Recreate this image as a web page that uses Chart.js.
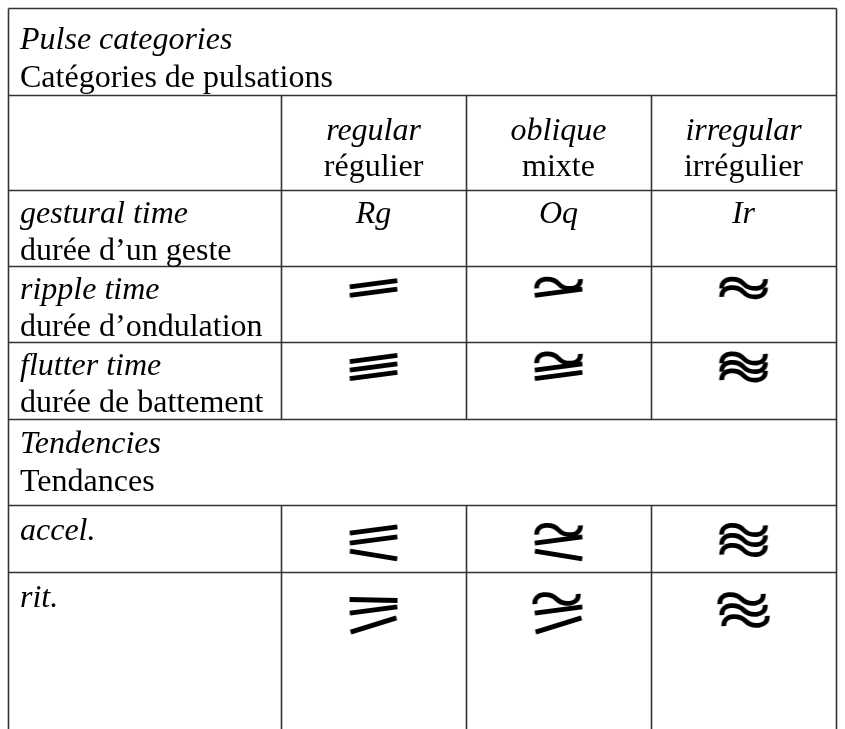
<!DOCTYPE html>
<html>
<head>
<meta charset="utf-8">
<script src="https://cdn.jsdelivr.net/npm/chart.js@4.4.1/dist/chart.umd.min.js"></script>
<style>
  html, body { margin: 0; padding: 0; background: #fff; }
  #wrap { width: 845px; height: 729px; position: relative; }
</style>
</head>
<body>
<div id="wrap"><canvas id="pulseChart"></canvas></div>
<script>
// table content
const titleEn = "Pulse categories";
const titleFr = "Catégories de pulsations";
const columnsEn = ["regular", "oblique", "irregular"];
const columnsFr = ["régulier", "mixte", "irrégulier"];
const durationsEn = ["gestural time", "ripple time", "flutter time"];
const durationsFr = ["durée d’un geste", "durée d’ondulation", "durée de battement"];
const gestureCodes = ["Rg", "Oq", "Ir"];
const tendencyEn = "Tendencies";
const tendencyFr = "Tendances";
const tendencyRows = ["accel.", "rit."];

// glyph strokes per cell: B = bar, T = tilde
const rippleGlyphs = ["BB", "TB", "TT"];
const flutterGlyphs = ["BBB", "TBB", "TTT"];
const accelGlyphs = ["BBB", "TBB", "TTT"];
const ritGlyphs = ["BBB", "TBB", "TTT"];

// layout of the grid (y measured down from the top border)
const rowEdges = [0, 87, 182, 258, 334, 411, 497, 564, 800];
const labelColWidth = 1.476; // in column units
const FONT = '"Liberation Serif", "DejaVu Serif", serif';
const FS = 32;

function drawTilde(g, w, a) {
  g.beginPath();
  g.moveTo(-w / 2, a * 0.7);
  g.bezierCurveTo(-w / 2, -a * 1.4, -w / 8, -a * 1.1, 0, 0);
  g.bezierCurveTo(w / 8, a * 1.1, w / 2, a * 1.4, w / 2, -a * 0.7);
  g.stroke();
}

function drawBar(g, w) {
  g.beginPath();
  g.moveTo(-w / 2, 0);
  g.lineTo(w / 2, 0);
  g.stroke();
}

function makeGlyph(strokes, mode) {
  const c = document.createElement("canvas");
  c.width = 70;
  c.height = 64;
  const g = c.getContext("2d");
  g.strokeStyle = "#000";
  g.lineWidth = 4.8;
  g.lineCap = "butt";
  const n = strokes.length;
  const gap = mode === "steady" ? 8.5 : 10;
  for (let i = 0; i < n; i++) {
    let dy = (i - (n - 1) / 2) * gap;
    let ang = -0.13;
    if (mode === "accel" && i === n - 1 && strokes[i] === "B") { ang = 0.16; dy += 5; }
    if (mode === "rit" && i === n - 1 && strokes[i] === "B") { ang = -0.3; dy += 5; }
    if (mode === "rit" && i === 0 && strokes[i] === "B") { ang = 0.02; }
    if (mode === "rit" && strokes[i] === "T") { ang = -0.25; dy *= 1.1; }
    g.save();
    g.translate(35 + (mode === "rit" && strokes[i] === "T" ? (i - 1) * 2 : 0), 32 + dy);
    g.rotate(strokes[i] === "T" ? ang * 0.2 : ang);
    if (strokes[i] === "T") drawTilde(g, 44, 5.8);
    else drawBar(g, 48);
    g.restore();
  }
  return c;
}

const glyphRows = [
  { glyphs: rippleGlyphs, row: 3, off: 22, mode: "steady" },
  { glyphs: flutterGlyphs, row: 4, off: 25, mode: "steady" },
  { glyphs: accelGlyphs, row: 6, off: 35, mode: "accel" },
  { glyphs: ritGlyphs, row: 7, off: 38, mode: "rit" },
];

const points = [];
const styles = [];
glyphRows.forEach(r => {
  r.glyphs.forEach((s, i) => {
    points.push({ x: i + 0.5, y: rowEdges[r.row] + r.off });
    styles.push(makeGlyph(s, r.mode));
  });
});

const tablePlugin = {
  id: "pulseTable",
  beforeDatasetsDraw(chart) {
    const { ctx, scales } = chart;
    const xs = scales.x, ys = scales.y;
    const X = v => xs.getPixelForValue(v);
    const Y = v => ys.getPixelForValue(v);
    const left = X(-labelColWidth), right = X(3);
    ctx.save();
    ctx.strokeStyle = "#333";
    ctx.lineWidth = 1.6;
    const line = (x1, y1, x2, y2) => {
      ctx.beginPath();
      ctx.moveTo(Math.round(x1) + 0.5, Math.round(y1) + 0.5);
      ctx.lineTo(Math.round(x2) + 0.5, Math.round(y2) + 0.5);
      ctx.stroke();
    };
    rowEdges.slice(0, 8).forEach(e => line(left, Y(e), right, Y(e)));
    line(left, Y(0), left, chart.height + 5);
    line(right, Y(0), right, chart.height + 5);
    // inner column dividers, not in the two section title rows
    [0, 1, 2].forEach(c => {
      line(X(c), Y(rowEdges[1]), X(c), Y(rowEdges[5]));
      line(X(c), Y(rowEdges[6]), X(c), chart.height + 5);
    });

    ctx.fillStyle = "#000";
    ctx.textBaseline = "middle";
    const it = "italic " + FS + "px " + FONT;
    const up = FS + "px " + FONT;
    const text = (t, x, y, font, align) => {
      ctx.font = font;
      ctx.textAlign = align;
      ctx.fillText(t, x, y);
    };
    const lx = left + 12;
    text(titleEn, lx, Y(rowEdges[0] + 33), it, "left");
    text(titleFr, lx, Y(rowEdges[0] + 71), up, "left");
    columnsEn.forEach((t, i) => {
      text(t, X(i + 0.5), Y(rowEdges[1] + 37), it, "center");
      text(columnsFr[i], X(i + 0.5), Y(rowEdges[1] + 73), up, "center");
    });
    durationsEn.forEach((t, i) => {
      const top = rowEdges[2 + i];
      text(t, lx, Y(top + 25), it, "left");
      text(durationsFr[i], lx, Y(top + 62), up, "left");
    });
    gestureCodes.forEach((t, i) => text(t, X(i + 0.5), Y(rowEdges[2] + 25), it, "center"));
    text(tendencyEn, lx, Y(rowEdges[5] + 26), it, "left");
    text(tendencyFr, lx, Y(rowEdges[5] + 64), up, "left");
    tendencyRows.forEach((t, i) => text(t, lx, Y(rowEdges[6 + i] + 27), it, "left"));
    ctx.restore();
  },
};

new Chart(document.getElementById("pulseChart"), {
  type: "scatter",
  data: {
    datasets: [{
      data: points,
      pointStyle: styles,
      pointRadius: 20,
      pointHoverRadius: 20,
      showLine: false,
    }],
  },
  options: {
    responsive: true,
    maintainAspectRatio: false,
    animation: false,
    events: [],
    layout: { autoPadding: false, padding: { left: 8, right: 9, top: 8, bottom: 0 } },
    plugins: { legend: { display: false }, tooltip: { enabled: false } },
    scales: {
      x: { type: "linear", min: -labelColWidth, max: 3, display: false },
      y: { type: "linear", min: 0, max: 721, reverse: true, display: false },
    },
  },
  plugins: [tablePlugin],
});
</script>
</body>
</html>
